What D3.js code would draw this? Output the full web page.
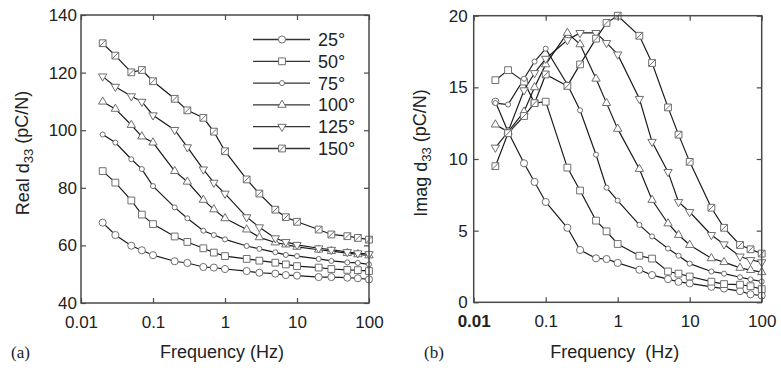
<!DOCTYPE html>
<html>
<head>
<meta charset="utf-8">
<script src="https://cdn.jsdelivr.net/npm/d3@7/dist/d3.min.js"></script>
<style>
  html, body { margin: 0; padding: 0; background: #fff; }
  svg { display: block; }
  text { font-family: "Liberation Sans", Arial, Helvetica, sans-serif; fill: #222; }
</style>
</head>
<body>
<svg id="chart" width="781" height="370"></svg>
<script>
// ---------------- DATA ----------------
const freqs = [0.02, 0.03, 0.05, 0.07, 0.1, 0.2, 0.3, 0.5, 0.7, 1, 2, 3, 5, 7, 10, 20, 30, 50, 70, 100];
const temps = ["25°", "50°", "75°", "100°", "125°", "150°"];

// Real d33 (pC/N)
const real25  = [67.9, 63.6, 59.9, 58.3, 56.6, 54.5, 53.9, 52.5, 52.3, 51.8, 51.1, 50.5, 50.2, 49.7, 49.5, 49.0, 49.0, 48.8, 48.6, 48.2];
const real50  = [85.8, 81.8, 75.6, 70.7, 67.4, 63.1, 61.2, 59.0, 57.5, 56.3, 55.3, 54.7, 54.0, 53.4, 52.8, 52.3, 51.8, 51.5, 51.4, 51.1];
const real75  = [98.5, 95.7, 89.9, 86.5, 80.6, 73.2, 69.4, 65.1, 63.6, 62.1, 59.8, 58.8, 57.6, 56.7, 56.3, 55.3, 54.6, 54.1, 53.9, 53.4];
const real100 = [109.9, 107.4, 101.8, 97.8, 95.7, 85.8, 82.1, 75.8, 72.5, 69.4, 65.5, 62.8, 61.0, 60.3, 59.5, 58.5, 58.0, 57.3, 56.9, 56.5];
const real125 = [118.7, 115.1, 111.8, 109.9, 105.2, 100.1, 94.1, 86.4, 81.8, 78.0, 69.8, 66.3, 62.5, 61.2, 60.2, 59.0, 58.5, 57.7, 57.3, 57.0];
const real150 = [130.2, 125.9, 120.1, 120.9, 117.0, 110.9, 106.9, 104.3, 99.5, 92.7, 82.9, 78.0, 72.4, 69.8, 68.2, 65.5, 63.8, 63.2, 62.6, 62.0];

// Imag d33 (pC/N)
const imag25  = [14.0, 11.9, 9.7, 8.4, 7.0, 5.2, 3.65, 3.07, 3.02, 2.75, 2.27, 1.9, 1.62, 1.43, 1.32, 1.08, 0.96, 0.78, 0.56, 0.47];
const imag50  = [15.5, 16.2, 15.4, 13.9, 14.0, 9.4, 7.8, 5.7, 4.95, 4.07, 3.25, 3.05, 2.15, 2.0, 1.8, 1.44, 1.27, 1.23, 1.12, 0.92];
const imag75  = [13.9, 13.8, 15.6, 16.8, 17.7, 15.2, 13.4, 10.3, 8.0, 7.1, 5.4, 4.6, 3.75, 3.25, 2.7, 2.15, 2.0, 1.75, 1.6, 1.45];
const imag100 = [12.4, 11.9, 13.3, 15.0, 16.6, 18.8, 18.0, 15.6, 13.9, 12.1, 9.3, 7.14, 5.5, 4.7, 4.0, 3.07, 2.8, 2.4, 2.25, 2.1];
const imag125 = [10.8, 11.9, 14.8, 16.0, 17.0, 18.3, 18.8, 18.8, 18.1, 17.3, 14.2, 11.2, 9.1, 7.0, 6.3, 4.7, 4.05, 3.2, 2.95, 2.8];
const imag150 = [9.5, 11.8, 13.0, 13.9, 15.9, 15.1, 16.6, 18.4, 19.5, 20.0, 18.6, 16.7, 13.6, 11.7, 9.8, 6.6, 5.2, 4.0, 3.7, 3.4];

const xTicks = [0.01, 0.1, 1, 10, 100];
const xTickLabels = ["0.01", "0.1", "1", "10", "100"];
const realTicks = [40, 60, 80, 100, 120, 140];
const imagTicks = [0, 5, 10, 15, 20];
const markerTypes = ["circle", "square", "smallcircle", "triUp", "triDown", "slashSquare"];

const realSeries = [real25, real50, real75, real100, real125, real150];
const imagSeries = [imag25, imag50, imag75, imag100, imag125, imag150];

// ---------------- DRAWING ----------------
const svg = d3.select("#chart");
const LINE = "#1b1b1b", MSTROKE = "#6f6f6f", FRAME = "#4a4a4a";

function markerPath(type) {
  switch (type) {
    case "circle": return d3.symbol(d3.symbolCircle, 40)();
    case "square": return d3.symbol(d3.symbolSquare, 46)();
    case "smallcircle": return d3.symbol(d3.symbolCircle, 20)();
    case "triUp": return d3.symbol(d3.symbolTriangle, 30)();
    case "triDown": return d3.symbol(d3.symbolTriangle, 30)();
    case "slashSquare": return d3.symbol(d3.symbolSquare, 46)();
  }
}
function drawMarker(g, type) {
  g.append("path").attr("d", markerPath(type))
    .attr("transform", type === "triDown" ? "rotate(180)" : null)
    .attr("fill", "#fff").attr("stroke", MSTROKE).attr("stroke-width", 1);
  if (type === "slashSquare") {
    const h = Math.sqrt(46) / 2;
    g.append("path").attr("d", d3.line()([[-h, h], [h, -h]]))
      .attr("stroke", MSTROKE).attr("stroke-width", 1);
  }
}

function panel(opts) {
  const { x0, x1, y0, y1, yDomain, yTicks, series, yLabel, xLabel, tag, tagX, yLabelX, boldFirst, tickPadY } = opts;
  const x = d3.scaleLog().domain([0.01, 100]).range([x0, x1]);
  const y = d3.scaleLinear().domain(yDomain).range([y1, y0]);
  const g = svg.append("g");

  // series
  series.forEach((vals, i) => {
    const pts = freqs.map((f, j) => [x(f), y(vals[j])]);
    g.append("path").attr("d", d3.line()(pts)).attr("fill", "none")
      .attr("stroke", LINE).attr("stroke-width", 1.2);
  });
  series.forEach((vals, i) => {
    freqs.forEach((f, j) => {
      const m = g.append("g").attr("transform", `translate(${x(f)},${y(vals[j])})`);
      drawMarker(m, markerTypes[i]);
    });
  });

  // axes (inward ticks)
  const fmt = d => xTickLabels[xTicks.indexOf(d)];
  const bottom = g.append("g").attr("transform", `translate(0,${y1})`)
    .call(d3.axisBottom(x).tickValues(xTicks).tickFormat(fmt).tickSizeInner(-5).tickSizeOuter(0).tickPadding(13));
  const top = g.append("g").attr("transform", `translate(0,${y0})`)
    .call(d3.axisTop(x).tickValues(xTicks).tickFormat("").tickSizeInner(-5).tickSizeOuter(0));
  const left = g.append("g").attr("transform", `translate(${x0},0)`)
    .call(d3.axisLeft(y).tickValues(yTicks).tickSizeInner(-5).tickSizeOuter(0).tickPadding(tickPadY));
  const right = g.append("g").attr("transform", `translate(${x1},0)`)
    .call(d3.axisRight(y).tickValues(yTicks).tickFormat("").tickSizeInner(-5).tickSizeOuter(0));
  [bottom, top, left, right].forEach(a => {
    a.select(".domain").remove();
    a.selectAll("line").attr("stroke", FRAME).attr("stroke-width", 1.2);
    a.selectAll("text").style("font-size", "17px").attr("fill", "#222")
      .style("font-family", '"Liberation Sans", Arial, sans-serif');
  });
  if (boldFirst) bottom.selectAll("text").filter(d => d === 0.01).style("font-weight", "bold");

  g.append("rect").attr("x", x0).attr("y", y0).attr("width", x1 - x0).attr("height", y1 - y0)
    .attr("fill", "none").attr("stroke", FRAME).attr("stroke-width", 1.5);

  // x label
  g.append("text").attr("x", (x0 + x1) / 2 - 3).attr("y", 358).attr("text-anchor", "middle")
    .style("font-size", "18px").style("white-space", "pre").attr("xml:space", "preserve").text(xLabel);
  // panel tag
  g.append("text").attr("x", tagX).attr("y", 358)
    .style("font-family", '"Liberation Serif", "Times New Roman", serif').style("font-size", "17px").text(tag);
  // y label with subscript
  const yl = g.append("text").attr("transform", `translate(${yLabelX},${(y0 + y1) / 2 - 6}) rotate(-90)`)
    .attr("text-anchor", "middle").style("font-size", "18px");
  yl.append("tspan").text(yLabel + " d");
  yl.append("tspan").attr("dy", "0.3em").style("font-size", "13px").text("33");
  yl.append("tspan").attr("dy", "-0.3em").text(" (pC/N)");
  return { x, y, g };
}

const L = panel({ x0: 81, x1: 369, y0: 15, y1: 303, yDomain: [40, 140], yTicks: realTicks,
  series: realSeries, yLabel: "Real", xLabel: "Frequency (Hz)", tag: "(a)", tagX: 11, yLabelX: 29, tickPadY: 4 });
const R = panel({ x0: 473.7, x1: 761.7, y0: 15.7, y1: 302.3, yDomain: [0, 20], yTicks: imagTicks,
  series: imagSeries, yLabel: "Imag", xLabel: "Frequency  (Hz)", tag: "(b)", tagX: 424, yLabelX: 427, boldFirst: true, tickPadY: 6 });

// legend (left panel)
const legend = svg.append("g");
temps.forEach((t, i) => {
  const gy = 39.5 + i * 21.8;
  const row = legend.append("g").attr("transform", `translate(0,${gy})`);
  row.append("line").attr("x1", 253).attr("x2", 310).attr("y1", 0).attr("y2", 0)
    .attr("stroke", "#333").attr("stroke-width", 1.3);
  const m = row.append("g").attr("transform", "translate(282,0)");
  drawMarker(m, markerTypes[i]);
  row.append("text").attr("x", 318).attr("y", 0).attr("dy", "0.36em")
    .style("font-size", "18px").text(t);
});
</script>
</body>
</html>
